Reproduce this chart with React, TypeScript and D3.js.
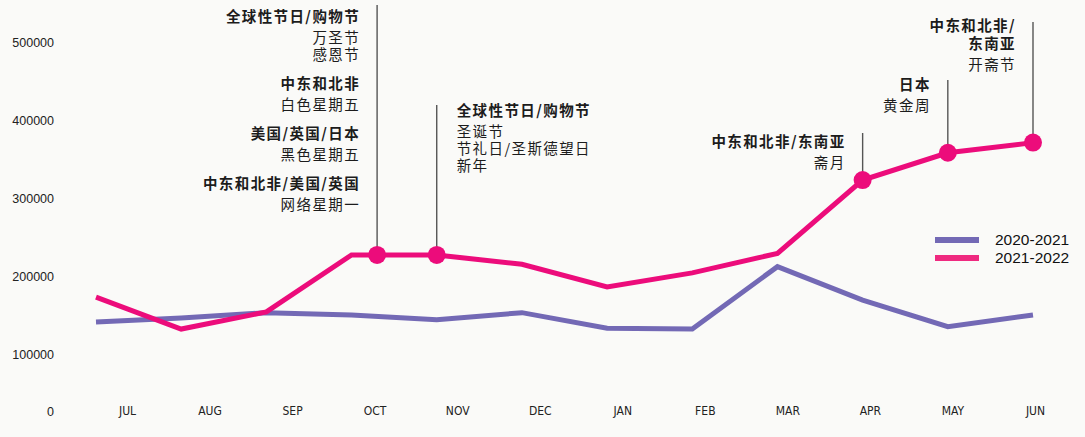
import React, { useEffect, useRef } from "react";
import * as d3 from "d3";

const months = ["JUL", "AUG", "SEP", "OCT", "NOV", "DEC", "JAN", "FEB", "MAR", "APR", "MAY", "JUN"];
const yTicks = [0, 100000, 200000, 300000, 400000, 500000];
const seriesNames = ["2020-2021", "2021-2022"];
const sales2021 = [141000, 146000, 153000, 150000, 144000, 153000, 133000, 132000, 212000, 169000, 135000, 150000];
const sales2022 = [173000, 132000, 154000, 227000, 227000, 215000, 186000, 204000, 229000, 323000, 358000, 371000];

// month index (0 = JUL) where each shopping-event callout sits on the 2021-2022 line
const eventPositions = [3.3, 4, 9, 10, 11];
const eventLabels: Array<Array<{ text: string; bold: boolean }>> = [
  [
    { text: "全球性节日/购物节", bold: true },
    { text: "万圣节", bold: false },
    { text: "感恩节", bold: false },
    { text: "中东和北非", bold: true },
    { text: "白色星期五", bold: false },
    { text: "美国/英国/日本", bold: true },
    { text: "黑色星期五", bold: false },
    { text: "中东和北非/美国/英国", bold: true },
    { text: "网络星期一", bold: false },
  ],
  [
    { text: "全球性节日/购物节", bold: true },
    { text: "圣诞节", bold: false },
    { text: "节礼日/圣斯德望日", bold: false },
    { text: "新年", bold: false },
  ],
  [
    { text: "中东和北非/东南亚", bold: true },
    { text: "斋月", bold: false },
  ],
  [
    { text: "日本", bold: true },
    { text: "黄金周", bold: false },
  ],
  [
    { text: "中东和北非/", bold: true },
    { text: "东南亚", bold: true },
    { text: "开斋节", bold: false },
  ],
];

const PURPLE = "#7369b5";
const PINK = "#ec0c7b";
const CJK = "'Noto Sans CJK SC', 'Noto Sans', sans-serif";
const LATIN = "'Liberation Sans', Arial, sans-serif";

export default function App() {
  const svgRef = useRef<SVGSVGElement>(null);
  const width = 1085;
  const height = 437;

  useEffect(() => {
    if (!svgRef.current) return;
    const svg = d3.select(svgRef.current);
    svg.selectAll("*").remove();

    svg.append("rect").attr("width", width).attr("height", height).attr("fill", "#fafaf8");

    const x = d3.scaleLinear().domain([0, months.length - 1]).range([96, 1033]);
    const xLabel = d3.scalePoint<string>().domain(months).range([127, 1035]);
    const y = d3.scaleLinear().domain([0, 500000]).range([432, 42]);

    // y axis
    const yAxis = svg
      .append("g")
      .attr("transform", "translate(54,0)")
      .call(d3.axisLeft(y).tickValues(yTicks).tickSize(0).tickPadding(0).tickFormat(d3.format("d")));
    yAxis.select(".domain").remove();
    yAxis
      .selectAll("text")
      .attr("dy", "0.35em")
      .style("fill", "#222")
      .style("font-family", LATIN)
      .style("font-size", "12.5px");
    // the zero label sits on the month row
    yAxis
      .selectAll<SVGGElement, number>(".tick")
      .filter((d) => d === 0)
      .select("text")
      .attr("y", -21);

    // x axis
    const xAxis = svg
      .append("g")
      .attr("transform", "translate(0,411)")
      .call(d3.axisBottom(xLabel).tickSize(0).tickPadding(0));
    xAxis.select(".domain").remove();
    xAxis
      .selectAll("text")
      .attr("y", 0)
      .attr("dy", "0.35em")
      .style("fill", "#222")
      .style("font-family", "'Liberation Sans Narrow', 'DejaVu Sans Condensed', sans-serif")
      .style("font-size", "12px");

    // callouts
    const layout = [
      { top: 5, side: "left", firstY: 17 },
      { top: 105, side: "right", firstY: 111 },
      { top: 133, side: "left", firstY: 142 },
      { top: 80, side: "left", firstY: 85 },
      { top: 22, side: "left", firstY: 26 },
    ];

    const valueAt = (p: number) => {
      const i0 = Math.floor(p);
      const i1 = Math.min(i0 + 1, sales2022.length - 1);
      return sales2022[i0] + (sales2022[i1] - sales2022[i0]) * (p - i0);
    };

    const callouts = svg.append("g");
    eventPositions.forEach((p, k) => {
      const cx = x(p);
      const cy = y(valueAt(p));
      const l = layout[k];
      callouts
        .append("line")
        .attr("x1", cx)
        .attr("x2", cx)
        .attr("y1", l.top)
        .attr("y2", cy)
        .attr("stroke", "#555")
        .attr("stroke-width", 1.4);

      const tx = l.side === "left" ? cx - 17 : cx + 20;
      let ty = l.firstY;
      eventLabels[k].forEach((line, j) => {
        if (j > 0) {
          const prev = eventLabels[k][j - 1];
          if (prev.bold && line.bold) ty += 18;
          else if (prev.bold) ty += 21;
          else if (line.bold) ty += 29;
          else ty += 17;
        }
        callouts
          .append("text")
          .attr("x", tx)
          .attr("y", ty)
          .attr("dy", "0.35em")
          .attr("text-anchor", l.side === "left" ? "end" : "start")
          .style("font-family", CJK)
          .style("font-size", "14.5px")
          .style("letter-spacing", "1.4px")
          .style("font-weight", line.bold ? 700 : 400)
          .style("fill", "#1c1c1c")
          .text(line.text);
      });
    });

    // lines
    const lineGen = d3
      .line<number>()
      .x((_d, i) => x(i))
      .y((d) => y(d));

    [sales2021, sales2022].forEach((s, i) => {
      svg
        .append("path")
        .datum(s)
        .attr("d", lineGen)
        .attr("fill", "none")
        .attr("stroke", i === 0 ? PURPLE : PINK)
        .attr("stroke-width", 5)
        .attr("stroke-linejoin", "miter");
    });

    svg
      .append("g")
      .selectAll("circle")
      .data(eventPositions)
      .enter()
      .append("circle")
      .attr("cx", (d) => x(d))
      .attr("cy", (d) => y(valueAt(d)))
      .attr("r", 9)
      .attr("fill", PINK);

    // legend
    const legend = svg.append("g").attr("transform", "translate(935,240)");
    seriesNames.forEach((name, i) => {
      const row = legend.append("g").attr("transform", `translate(0,${i * 18})`);
      row
        .append("line")
        .attr("x1", 0)
        .attr("x2", 44)
        .attr("stroke", i === 0 ? PURPLE : "#ef2a80")
        .attr("stroke-width", 6);
      row
        .append("text")
        .attr("x", 60)
        .attr("dy", "0.35em")
        .style("font-family", LATIN)
        .style("font-size", "15.5px")
        .style("fill", "#111")
        .text(name);
    });
  }, []);

  return (
    <svg
      ref={svgRef}
      width={width}
      height={height}
      style={{ position: "absolute", left: 0, top: 0 }}
    />
  );
}
